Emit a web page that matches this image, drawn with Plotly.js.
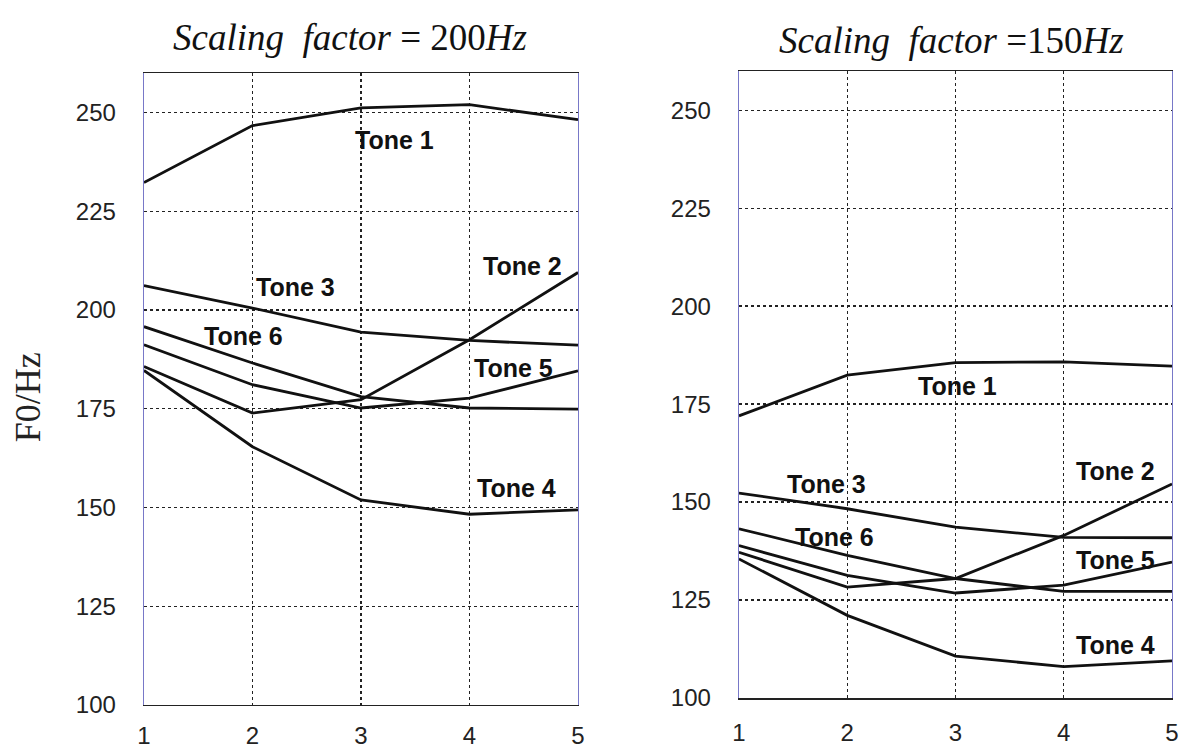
<!DOCTYPE html>
<html>
<head>
<meta charset="utf-8">
<script src="https://cdn.plot.ly/plotly-3.0.1.min.js"></script>
<style>html,body{margin:0;padding:0;background:#fff;}#chart{width:1181px;height:746px;}</style>
</head>
<body>
<div id="chart"></div>
<script>
// Syllable positions along the contour
const positions = [1, 2, 3, 4, 5];
const toneNames = ['Tone 1', 'Tone 2', 'Tone 3', 'Tone 4', 'Tone 5', 'Tone 6'];

// F0 contours (Hz), scaling factor 200 Hz
const f200_tone1 = [232.3, 246.7, 251.2, 252.0, 248.2];
const f200_tone2 = [185.7, 173.9, 177.3, 192.5, 209.5];
const f200_tone3 = [206.2, 200.5, 194.4, 192.3, 191.1];
const f200_tone4 = [184.7, 165.4, 151.9, 148.3, 149.4];
const f200_tone5 = [191.2, 181.1, 175.2, 177.7, 184.6];
const f200_tone6 = [195.8, 186.6, 178.1, 175.2, 174.9];

// F0 contours (Hz), scaling factor 150 Hz
const f150_tone1 = [172.0, 182.4, 185.6, 185.8, 184.7];
const f150_tone2 = [137.2, 128.3, 130.5, 141.5, 154.6];
const f150_tone3 = [152.3, 148.3, 143.6, 141.0, 140.9];
const f150_tone4 = [135.5, 121.1, 110.7, 108.0, 109.5];
const f150_tone5 = [138.9, 131.3, 126.8, 128.8, 134.7];
const f150_tone6 = [143.2, 136.4, 130.5, 127.2, 127.2];

// Label anchor points (position, Hz) for each tone
const lab200_x = [3.31, 4.49, 2.40, 4.43, 4.41, 1.92];
const lab200_y = [243.1, 211.2, 205.9, 155.0, 185.4, 193.5];
const lab150_x = [3.02, 4.48, 1.81, 4.48, 4.48, 1.88];
const lab150_y = [179.6, 158.0, 154.7, 113.5, 135.1, 141.2];

const yTicks = [100, 125, 150, 175, 200, 225, 250];

const set200 = [f200_tone1, f200_tone2, f200_tone3, f200_tone4, f200_tone5, f200_tone6];
const set150 = [f150_tone1, f150_tone2, f150_tone3, f150_tone4, f150_tone5, f150_tone6];

const traces = [];
set200.forEach((ys, i) => traces.push({
  x: positions, y: ys, name: toneNames[i], type: 'scatter', mode: 'lines',
  line: {color: '#111', width: 2.8}, xaxis: 'x', yaxis: 'y', showlegend: false
}));
set150.forEach((ys, i) => traces.push({
  x: positions, y: ys, name: toneNames[i], type: 'scatter', mode: 'lines',
  line: {color: '#111', width: 2.8}, xaxis: 'x2', yaxis: 'y2', showlegend: false
}));

const tickFont = {family: 'Liberation Sans, Arial, sans-serif', size: 24, color: '#222'};
const labelFont = {family: 'Liberation Sans, Arial, sans-serif', size: 25, color: '#111', weight: 'bold'};

function xAxis(domain, standoff) {
  return {
    domain: domain, range: [1, 5], tickvals: positions, ticktext: positions.map(String),
    showgrid: true, gridcolor: '#222', griddash: 'dot', gridwidth: 1.3,
    zeroline: false, showline: true, linecolor: '#222', linewidth: 1.5, mirror: true,
    ticks: 'outside', ticklen: standoff, tickcolor: 'rgba(0,0,0,0)',
    tickfont: tickFont
  };
}
function yAxis(domain, anchor) {
  return {
    domain: domain, range: [100, 260], tickvals: yTicks, anchor: anchor,
    showgrid: true, gridcolor: '#222', griddash: 'dot', gridwidth: 1.3,
    zeroline: false, showline: true, linecolor: '#7878c8', linewidth: 1.3, mirror: true,
    ticks: 'outside', ticklen: 22, tickcolor: 'rgba(0,0,0,0)',
    tickfont: tickFont
  };
}

const annotations = [];
toneNames.forEach((t, i) => {
  annotations.push({x: lab200_x[i], y: lab200_y[i], xref: 'x', yref: 'y', text: t,
    xanchor: 'center', yanchor: 'middle', showarrow: false, font: labelFont});
  annotations.push({x: lab150_x[i], y: lab150_y[i], xref: 'x2', yref: 'y2', text: t,
    xanchor: 'center', yanchor: 'middle', showarrow: false, font: labelFont});
});

const titleFont = {family: 'Liberation Serif, Times New Roman, serif', size: 37, color: '#111'};
annotations.push({xref: 'paper', yref: 'paper', x: 0.296, y: 0.950, xanchor: 'center', yanchor: 'middle',
  text: '<i>Scaling  factor</i> = 200<i>Hz</i>', showarrow: false, font: titleFont});
annotations.push({xref: 'paper', yref: 'paper', x: 0.806, y: 0.946, xanchor: 'center', yanchor: 'middle',
  text: '<i>Scaling  factor</i> =150<i>Hz</i>', showarrow: false, font: titleFont});
annotations.push({xref: 'paper', yref: 'paper', x: 0.024, y: 0.468, xanchor: 'center', yanchor: 'middle',
  text: 'F0/Hz', textangle: -90, showarrow: false,
  font: {family: 'Liberation Serif, Times New Roman, serif', size: 36, color: '#222'}});

const layout = {
  width: 1181, height: 746,
  margin: {l: 0, r: 0, t: 0, b: 0},
  paper_bgcolor: '#fff', plot_bgcolor: '#fff',
  showlegend: false,
  xaxis: xAxis([0.1219, 0.4894], 9),
  yaxis: yAxis([0.055, 0.902], 'x'),
  xaxis2: Object.assign(xAxis([0.6257, 0.9924], 13), {anchor: 'y2'}),
  yaxis2: yAxis([0.0643, 0.9048], 'x2'),
  annotations: annotations
};

Plotly.newPlot('chart', traces, layout, {displayModeBar: false, staticPlot: true});
</script>
</body>
</html>
